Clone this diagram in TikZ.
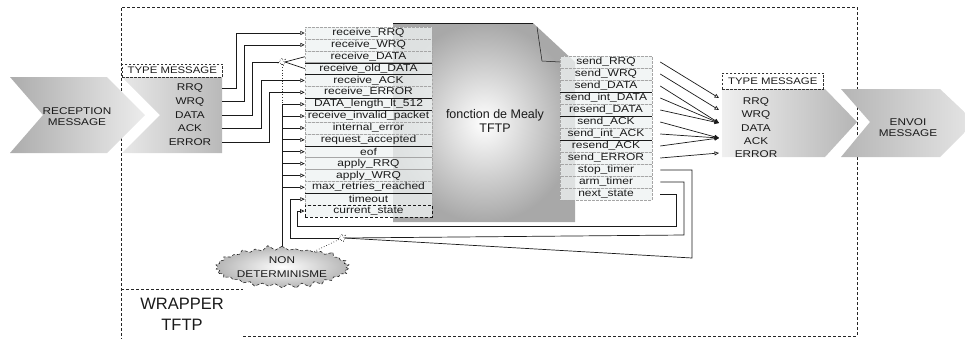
\documentclass[tikz,border=0pt]{standalone}
\usepackage{fontspec}
\setmainfont{Liberation Sans}
\newfontfamily\sfs[FakeStretch=1.2]{Liberation Sans}
\usetikzlibrary{arrows.meta,shapes.symbols,calc}
\definecolor{cellfill}{HTML}{EEF2F2}
\definecolor{ink}{HTML}{1A1A1A}
\tikzset{
  txt/.style={inner sep=0pt, text=ink, font=\sfs\fontsize{9.8}{10.8}\selectfont},
  cell/.style={rectangle, draw=gray!70, dash pattern=on 2.5pt off 1.5pt, line width=0.5pt,
    fill=cellfill, fill opacity=0.78, text opacity=1, minimum height=11.87pt, inner sep=0pt,
    text=ink, font=\sfs\fontsize{10}{10}\selectfont},
  incell/.style={cell, minimum width=127pt},
  outcell/.style={cell, minimum width=92pt},
  conn/.style={draw=ink, line width=0.7pt},
  oarr/.style={conn, -{Triangle[open, length=4.5pt, width=4pt]}},
  farr/.style={conn, -{Triangle[length=4.5pt, width=4pt]}},
  ndstar/.style={starburst, starburst points=7, starburst point height=2.5pt, minimum size=9pt,
    inner sep=0pt, draw=gray!40!black, dotted, line width=0.7pt, fill=white},
  wrap/.style={draw=gray!30!black, line width=0.6pt, dash pattern=on 3pt off 2pt},
  sep/.style={draw=ink, line width=0.6pt},
}
\begin{document}
\begin{tikzpicture}[x=1pt, y=-1pt]
\useasboundingbox (0,0) rectangle (965,338);
\clip (0,0) rectangle (965,338);
% wrapper
\draw[wrap] (243,336) -- (857,336) -- (857,7) -- (121,7) -- (121,340);
\draw[wrap] (121,289) -- (243,289);
\node[inner sep=0pt, align=center, text=ink, font=\fontsize{16.5}{21}\selectfont] (wlab) at (182,314) {WRAPPER\\TFTP};
% reception chevron
\shade[left color=gray!65, right color=gray!15] (10,77) -- (107,77) -- (145,115) -- (107,153) -- (10,153) -- (43,115) -- cycle;
\node[txt, align=center] (rec) at (77,117) {RECEPTION\\MESSAGE};
% left type message box
\shade[left color=gray!18, right color=gray!55] (122,77) -- (222,77) -- (222,153) -- (122,153) -- (160,115) -- cycle;
\node[draw=gray!40!black, dash pattern=on 2.5pt off 1.5pt, line width=0.5pt, minimum width=100pt, minimum height=13pt, inner sep=0pt, anchor=south west, text=ink, font=\sfs\fontsize{9.5}{10}\selectfont] (tml) at (122,77) {TYPE MESSAGE};
\coordinate (lbE) at (222,0);
\foreach \t [count=\i from 0] in {RRQ,WRQ,DATA,ACK,ERROR}
  \node[txt] (tl\i) at (190,{88+13.5*\i}) {\t};
% Mealy function shape
\shade[inner color=white, outer color=gray!68] (393,23) -- (533,23) -- (575,62) -- (575,222) -- (393,222) -- cycle;
\draw[ink, line width=1pt] (393,23) -- (533,23);
\node[inner sep=0pt, align=center, text=ink, font=\fontsize{12.5}{14}\selectfont] (mealy) at (495,121) {fonction de Mealy\\TFTP};
% input table
\foreach \t [count=\k from 0] in {receive\_RRQ,receive\_WRQ,receive\_DATA,receive\_old\_DATA,receive\_ACK,receive\_ERROR,DATA\_length\_lt\_512,receive\_invalid\_packet,internal\_error,request\_accepted,eof,apply\_RRQ,apply\_WRQ,max\_retries\_reached,timeout}
  \node[incell] (in\k) at (368.5,{33+11.87*\k}) {\t};
\node[incell, draw=ink, line width=0.9pt, dash pattern=on 3pt off 2pt] (in15) at (368.5,{33+11.87*15}) {current\_state};
\foreach \k in {2,3,5,6,9,13}
  \draw[sep] (in\k.south west) -- (in\k.south east);
% output table
\foreach \t [count=\k from 0] in {send\_RRQ,send\_WRQ,send\_DATA,send\_int\_DATA,resend\_DATA,send\_ACK,send\_int\_ACK,resend\_ACK,send\_ERROR,stop\_timer,arm\_timer,next\_state}
  \node[outcell] (out\k) at (606,{62+12*\k}) {\t};
\foreach \k in {2,4,6}
  \draw[sep] (out\k.south west) -- (out\k.south east);
% fold of the page
\draw[conn, line width=0.5pt] (537,27) -- (542,61) -- (out0.west);
% right type message box
\shade[left color=gray!12, right color=gray!58] (722,89) -- (825,89) -- (857,122) -- (825,157) -- (722,157) -- cycle;
\node[draw=gray!40!black, dash pattern=on 2.5pt off 1.5pt, line width=0.5pt, minimum width=101pt, minimum height=16pt, inner sep=0pt, anchor=south west, text=ink, font=\sfs\fontsize{9.5}{10}\selectfont] (tmr) at (722,89) {TYPE MESSAGE};
\foreach \t [count=\i from 0] in {RRQ,WRQ,DATA,ACK,ERROR}
  \node[txt] (tr\i) at (756,{102+13*\i}) {\t};
% envoi chevron
\shade[left color=gray!58, right color=gray!20] (841,89) -- (940,89) -- (975,122) -- (940,157) -- (841,157) -- (870,122) -- cycle;
\node[txt, align=center] (env) at (908,128) {ENVOI\\MESSAGE};
% non determinism
\node[starburst, starburst points=30, starburst point height=5pt, random starburst=11,
  minimum width=112pt, minimum height=44pt, inner sep=0pt, draw=gray!30!black, densely dashed,
  line width=0.6pt, shade, inner color=white, outer color=gray!58, align=center, text=ink,
  font=\sfs\fontsize{9.8}{14}\selectfont] (nd) at (282,267) {NON\\DETERMINISME};
\node[ndstar] (s1) at (282,62) {};
\node[ndstar] (s2) at (342,238) {};
% connectors from left type box
\draw[oarr] (tl0.east -| lbE) -- ++(14,0) |- (in0.west);
\draw[oarr] (tl1.east -| lbE) -- ++(22,0) |- (in1.west);
\draw[conn] (tl2.east -| lbE) -- ++(30,0) |- (s1.west);
\draw[oarr] (tl3.east -| lbE) -- ++(39,0) |- (in4.west);
\draw[oarr] (tl4.east -| lbE) -- ++(47,0) |- (in5.west);
\draw[conn] (s1.east) -- (in2.west);
\draw[conn] (s1.east) -- (in3.west);
% bus from non determinism
\coordinate (bus) at (282,0);
\draw[dotted, gray!40!black, line width=0.7pt] (s1.south) -- (in6.west -| bus);
\draw[conn] (nd.north -| bus) -- (in6.west -| bus);
\foreach \k in {6,...,13}
  \draw[oarr] (in\k.west -| bus) -- (in\k.west);
% feedback loops
\coordinate (tbus) at (290,0);
\coordinate (cbus) at (297,226);
\coordinate (nbus) at (676,226);
\coordinate (abus) at (684,235);
\coordinate (sbus) at (692,258);
\draw[oarr] (s2.west) -- (s2.west -| tbus) |- (in14.west);
\draw[oarr] ([xshift=8pt]out11.east) -| (nbus) -- (cbus) |- (in15.west);
\draw[conn] ([xshift=8pt]out10.east) -| (abus) -- (s2.east);
\draw[conn] ([xshift=8pt]out9.east) -| (sbus) -- (s2.east);
\draw[dotted, gray!40!black, line width=0.7pt] (s2) -- (nd);
% output connectors
\coordinate (ra0) at (719,98);
\coordinate (ra1) at (719,110);
\coordinate (ra2) at (719,123);
\coordinate (ra3) at (719,138);
\coordinate (ra4) at (719,153);
\draw[oarr] ([xshift=8pt]out0.east) -- (ra0);
\draw[oarr] ([xshift=8pt]out1.east) -- (ra1);
\foreach \k in {2,3,4} \draw[farr] ([xshift=8pt]out\k.east) -- (ra2);
\foreach \k in {5,6,7} \draw[farr] ([xshift=8pt]out\k.east) -- (ra3);
\draw[oarr] ([xshift=8pt]out8.east) -- (ra4);
\end{tikzpicture}
\end{document}
